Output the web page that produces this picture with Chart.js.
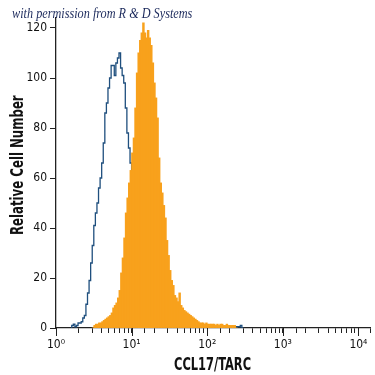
<!DOCTYPE html>
<html>
<head>
<meta charset="utf-8">
<script src="https://cdn.jsdelivr.net/npm/chart.js@4/dist/chart.umd.min.js"></script>
<style>
  html, body { margin: 0; padding: 0; background: #fff; }
  #wrap { position: relative; width: 375px; height: 375px; }
  .lbl { position: absolute; white-space: nowrap; transform-origin: 0 0; line-height: 1; }
  #credit { font: italic 14px 'Liberation Serif', 'DejaVu Serif', serif; color: #1c2a5c; }
  #xTitle, #yTitle { font: bold 18px 'DejaVu Sans Condensed', 'Liberation Sans', sans-serif; color: #111; }
</style>
</head>
<body>
<div id="wrap">
  <canvas id="c" width="375" height="375"></canvas>
  <div id="credit" class="lbl">with permission from R &amp; D Systems</div>
  <div id="xTitle" class="lbl">CCL17/TARC</div>
  <div id="yTitle" class="lbl">Relative Cell Number</div>
</div>
<script>
// histogram channels: 48 per decade, bin i covers 10^(i/48) .. 10^((i+1)/48)
const CH_PER_DECADE = 48;

// isotype control (blue outline), starting at channel 10
const isoStart = 10;
const isoCounts = [
  0, 1, 1.5, 0.5, 1, 2, 2, 2.5, 4, 5,
  9.5, 14, 19, 26, 33, 41, 46, 50, 56, 60,
  66, 74, 86, 90, 96, 100, 105, 105, 101, 106,
  108, 110, 104, 101, 98, 88, 78, 72, 66, 60,
  52, 45, 38, 31, 25, 20, 15, 11, 8, 6,
  4, 3, 2.5, 2, 1.5, 1.5, 1, 1, 1, 1,
  1, 0.5, 0.5, 0.5, 0.5, 0.5, 0.5, 0.5, 0.5, 0.5,
  0.5, 0.5, 0.5, 0.5, 0.5, 0.5, 0.5, 0.5, 0.5, 0.5,
  0.5, 0.5, 0.5, 0.5, 0.5, 0.5, 0.5, 0.5, 0.5, 0.5,
  0.5, 0.5, 0.5, 0.5, 0.5, 0.5, 0.5, 0.5, 0.5, 0.5,
  0.5, 0.5, 0.5, 0.5, 0.5, 0.5, 0.5, 0.5, 1, 0
];

// CCL17/TARC stained (orange filled), starting at channel 23
const tarcStart = 23;
const tarcCounts = [
  0, 1, 1.5, 1.5, 2, 2, 2.5,
  3, 3.5, 4, 4.5, 5, 6, 8, 9, 10, 12,
  15, 22, 28, 36, 46, 52, 58, 63, 70, 76,
  88, 102, 110, 115, 118, 122, 118, 116, 119, 116,
  113, 106, 98, 92, 84, 68, 58, 54, 49, 44,
  35, 29, 23, 19, 17, 13, 12, 10.5, 14, 9,
  8, 7, 6.5, 6, 5.5, 5, 4.5, 4, 3.5, 3,
  2.5, 2, 2, 2, 1.5, 2, 1.5, 1.5, 1.5, 1.5,
  1.5, 1, 1.5, 1, 1.5, 1.5, 1, 1, 1.5, 1,
  1, 1, 1, 1, 0
];

const yTicks = [0, 20, 40, 60, 80, 100, 120];
const xDecades = [0, 1, 2, 3, 4];
const SUP = ['⁰', '¹', '²', '³', '⁴'];

const FONT = "'Liberation Sans Narrow', 'DejaVu Sans Condensed', 'Roboto', sans-serif";

const chX = ch => Math.pow(10, ch / CH_PER_DECADE);

// squeeze an html label into a box (the original uses a condensed face)
function place(id, left, top, width, rotate) {
  const el = document.getElementById(id);
  const s = width / el.offsetWidth;
  el.style.left = left + 'px';
  el.style.top = top + 'px';
  el.style.transform = rotate ? `rotate(-90deg) scaleX(${s})` : `scaleX(${s})`;
}

// longer tick marks at the decades
const majorTicks = {
  id: 'majorTicks',
  afterDraw(chart) {
    const ctx = chart.ctx, xs = chart.scales.x;
    ctx.save();
    ctx.strokeStyle = '#222';
    ctx.lineWidth = 1;
    for (const d of xDecades) {
      const px = Math.round(xs.getPixelForValue(Math.pow(10, d))) + 0.5;
      ctx.beginPath();
      ctx.moveTo(px, xs.top);
      ctx.lineTo(px, xs.top + 8);
      ctx.stroke();
    }
    ctx.restore();
  }
};

new Chart(document.getElementById('c'), {
  type: 'line',
  data: {
    datasets: [
      {
        type: 'bar', label: 'CCL17/TARC', order: 0,
        data: tarcCounts.map((v, k) => ({ x: chX(tarcStart + k + 0.5), y: v })),
        backgroundColor: '#f8a11c', borderWidth: 0,
        barPercentage: 1, categoryPercentage: 1, inflateAmount: 0.45
      },
      {
        type: 'line', label: 'Isotype', order: 1,
        data: isoCounts.map((v, k) => ({ x: chX(isoStart + k), y: v })),
        stepped: 'after', fill: false,
        borderColor: '#1f4f7e', borderWidth: 1.3,
        pointRadius: 0
      }
    ]
  },
  options: {
    responsive: false, animation: false,
    layout: { padding: { left: 0, right: 5, top: 18, bottom: 0 } },
    plugins: { legend: { display: false }, tooltip: { enabled: false } },
    scales: {
      x: {
        type: 'logarithmic', min: 1, max: 14230, offset: false,
        afterFit: s => { s.height = 47; },
        border: { color: '#222', width: 1.3 },
        grid: { offset: false, drawOnChartArea: false, tickLength: 5, color: '#222' },
        ticks: {
          autoSkip: false, maxRotation: 0, padding: 5, color: '#111',
          font: { family: FONT, size: 12 },
          callback: v => {
            const l = Math.log10(v);
            const r = Math.round(l);
            return Math.abs(l - r) < 1e-6 && xDecades.includes(r) ? '10' + SUP[r] : '';
          }
        }
      },
      y: {
        min: 0, max: 124,
        afterFit: s => { s.width = 56; },
        afterBuildTicks: s => { s.ticks = yTicks.map(v => ({ value: v })); },
        border: { color: '#222', width: 1.3 },
        grid: { drawOnChartArea: false, tickLength: 6, color: '#222' },
        ticks: { padding: 3, color: '#111', font: { family: FONT, size: 12 } }
      }
    }
  },
  plugins: [majorTicks]
});

place('credit', 12, 6, 180, false);
place('xTitle', 174, 353, 77, false);
place('yTitle', 6, 235, 140, true);
</script>
</body>
</html>
